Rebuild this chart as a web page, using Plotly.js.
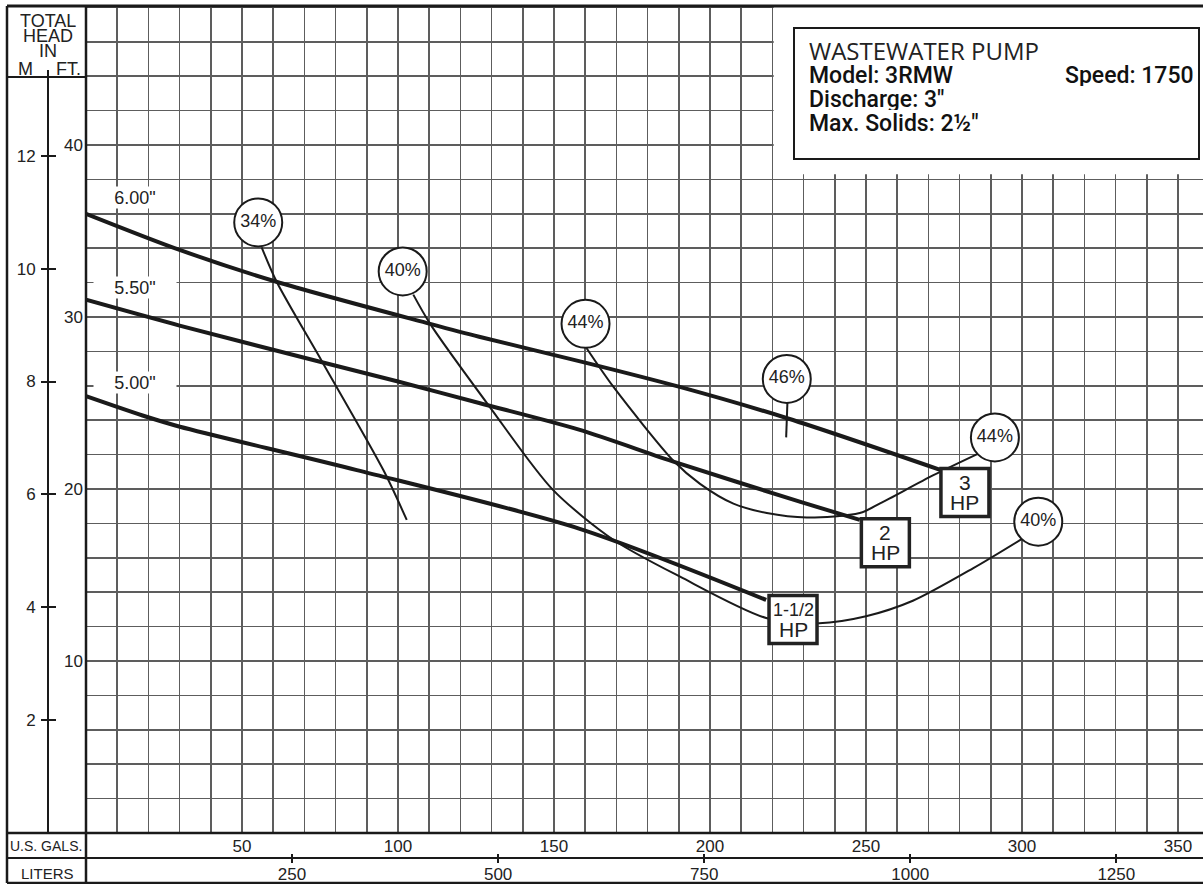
<!DOCTYPE html>
<html>
<head>
<meta charset="utf-8">
<script src="https://cdn.plot.ly/plotly-3.0.1.min.js"></script>
<style>html,body{margin:0;padding:0;background:#fff}</style>
</head>
<body>
<div id="chart" style="width:1203px;height:884px"></div>
<script>
// ---- axis tick values ----
const galTicks = [50, 100, 150, 200, 250, 300, 350];
const literTicks = [250, 500, 750, 1000, 1250];
const ftTicks = [10, 20, 30, 40];
const mTicks = [2, 4, 6, 8, 10, 12];

// ---- head-capacity curves (flow in US gal/min, head in ft) ----
const imp600_q = [0, 30, 61, 110.3, 126, 160, 190, 225, 274];
const imp600_h = [36.0, 33.9, 32.05, 29.6, 28.85, 27.35, 25.95, 24.1, 21.1];
const imp550_q = [0, 30, 75, 100, 126, 158, 189, 229, 248];
const imp550_h = [31.0, 29.5, 27.4, 26.25, 25.0, 23.45, 21.55, 19.25, 18.2];
const imp500_q = [0, 19.4, 30.1, 86.8, 158, 218];
const imp500_h = [25.4, 24.2, 23.62, 21.1, 17.7, 13.55];
const impLabels = ['6.00"', '5.50"', '5.00"'];
const impLabel_q = [15.7, 15.7, 15.7];
const impLabel_h = [36.97, 31.7, 26.2];

// ---- efficiency curves ----
const eff34_q = [56.3, 61.1, 76, 95.3, 102.8];
const eff34_h = [34.05, 32.05, 27.3, 21.1, 18.2];
const eff40_q = [104.9, 110.3, 129.5, 149.5, 169, 190.4, 218, 235, 250, 265, 284.4, 300];
const eff40_h = [31.3, 29.6, 24.75, 19.98, 17.05, 14.9, 12.5, 12.2, 12.6, 13.5, 15.4, 17.1];
const eff44_q = [160.4, 169, 188.5, 196.8, 207.5, 218.2, 231, 248, 254.5, 271.6, 286.5];
const eff44_h = [28.2, 25.95, 21.6, 20.3, 19.15, 18.6, 18.34, 18.6, 19.16, 20.8, 22.1];
const eff46_q = [224.8, 224.4];
const eff46_h = [25.0, 23.0];

// ---- efficiency labels ----
const circ_q = [55.2, 101.5, 160.1, 224.6, 291.3, 305.2];
const circ_h = [35.5, 32.65, 29.6, 26.4, 23.0, 18.1];
const circ_t = ['34%', '40%', '44%', '46%', '44%', '40%'];

// ---- motor HP labels ----
const hp_q = [281.7, 256.2, 226.6];
const hp_h = [19.8, 16.87, 12.41];
const hp_top = ['3', '2', '1-1/2'];

const GAL_TO_L = 3.78541;
const FT_PER_M = 3.28084;
const X_MAX = 358;
const Y_MAX = 48.08;

// pixel -> paper helpers (paper spans x 7..1203, y 6..883)
const W = 1196, H = 877;
const px = v => (v - 7) / W;
const py = v => (883 - v) / H;

const INK = '#1a1a1a';
const GRID = '#5d5d5d';
const FONT = 'Liberation Sans, Arial, Helvetica, sans-serif';

function curve(q, h, w) {
  return {x: q, y: h, mode: 'lines', xaxis: 'x', yaxis: 'y', hoverinfo: 'skip',
          line: {color: INK, width: w, shape: 'spline', smoothing: 0.8}};
}
function ghost(xa, ya) {
  return {x: [0], y: [0], xaxis: xa, yaxis: ya, mode: 'markers', hoverinfo: 'skip',
          marker: {opacity: 0, size: 1}};
}

const traces = [
  curve(imp600_q, imp600_h, 4),
  curve(imp550_q, imp550_h, 4),
  curve(imp500_q, imp500_h, 4),
  curve(eff34_q, eff34_h, 2),
  curve(eff40_q, eff40_h, 2),
  curve(eff44_q, eff44_h, 2),
  curve(eff46_q, eff46_h, 2),
  {x: circ_q, y: circ_h, mode: 'markers+text', text: circ_t, textposition: 'middle center',
   hoverinfo: 'skip', xaxis: 'x', yaxis: 'y',
   marker: {symbol: 'circle', size: 48, color: 'white', line: {color: INK, width: 2}},
   textfont: {family: FONT, size: 18, color: '#222'}},
  {x: hp_q, y: hp_h, mode: 'markers', hoverinfo: 'skip', xaxis: 'x', yaxis: 'y',
   marker: {symbol: 'square', size: 48, color: 'white', line: {color: '#222', width: 3.5}}},
  ghost('x2', 'y'), ghost('x3', 'y'), ghost('x', 'y2'), ghost('x', 'y3')
];

const annotations = [];
impLabels.forEach((t, i) => annotations.push({
  x: impLabel_q[i], y: impLabel_h[i], xref: 'x', yref: 'y', text: t, showarrow: false,
  xanchor: 'center', yanchor: 'middle',
  bgcolor: 'white', width: 80, height: 19, borderpad: 1,
  font: {family: FONT, size: 18, color: '#222'}
}));
hp_top.forEach((t, i) => {
  annotations.push({x: hp_q[i], y: hp_h[i], xref: 'x', yref: 'y', text: t, showarrow: false,
    xanchor: 'center', yanchor: 'middle', yshift: 10,
    font: {family: FONT, size: t.length > 2 ? 18 : 21, color: '#222'}});
  annotations.push({x: hp_q[i], y: hp_h[i], xref: 'x', yref: 'y', text: 'HP', showarrow: false,
    xanchor: 'center', yanchor: 'middle', yshift: -10, font: {family: FONT, size: 21, color: '#222'}});
});
// header text in left column
const hdr = [['TOTAL', 48, 21], ['HEAD', 48, 35.5], ['IN', 48, 51], ['M', 25, 69], ['FT.', 68, 69]];
hdr.forEach(([t, x, y]) => annotations.push({xref: 'paper', yref: 'paper', x: px(x), y: py(y),
  text: t, showarrow: false, xanchor: 'center', yanchor: 'middle', height: 14,
  font: {family: FONT, size: 18, color: '#222'}}));
annotations.push({xref: 'paper', yref: 'paper', x: px(46), y: py(846), text: 'U.S. GALS.',
  xanchor: 'center', yanchor: 'middle',
  showarrow: false, font: {family: FONT, size: 14, color: '#222'}});
annotations.push({xref: 'paper', yref: 'paper', x: px(47), y: py(873), text: 'LITERS',
  xanchor: 'center', yanchor: 'middle',
  showarrow: false, font: {family: FONT, size: 15, color: '#222'}});
// info box text
annotations.push({xref: 'paper', yref: 'paper', x: px(807), y: py(50), xanchor: 'left', yanchor: 'middle',
  text: 'WASTEWATER PUMP', height: 22,
  showarrow: false, font: {family: 'Open Sans, sans-serif', size: 24, color: '#222'}});
const boxFont = {family: 'Roboto, Liberation Sans, Arial, sans-serif', size: 23, color: '#111', weight: 500};
[['Model: 3RMW', 75], ['Discharge: 3"', 99], ['Max. Solids: 2\u00bd"', 123]].forEach(([t, y]) =>
  annotations.push({xref: 'paper', yref: 'paper', x: px(807), y: py(y), xanchor: 'left', yanchor: 'middle',
    text: t, height: 22, showarrow: false, font: boxFont}));
annotations.push({xref: 'paper', yref: 'paper', x: px(1196), y: py(75), xanchor: 'right', yanchor: 'middle',
  text: 'Speed: 1750', height: 22, showarrow: false, font: boxFont});

const ln = (x0, y0, x1, y1, w) => ({type: 'line', xref: 'paper', yref: 'paper', x0, y0, x1, y1,
  layer: 'above', line: {color: INK, width: w}});
const shapes = [
  {type: 'rect', xref: 'x', yref: 'y', x0: 220.4, x1: X_MAX + 5, y0: 38.3, y1: Y_MAX + 1,
   layer: 'above', fillcolor: 'white', line: {width: 0}},
  {type: 'rect', xref: 'paper', yref: 'paper', x0: px(794), x1: px(1199), y0: py(159), y1: py(28),
   layer: 'above', line: {color: INK, width: 2}},
  ln(0, 1, 1, 1, 3),
  ln(0, 0, 0, 1, 2.5),
  ln(0, 0, 1, 0, 2.5),
  ln(px(86), 0, px(86), 1, 2.5),
  ln(0, py(833), 1, py(833), 2.5),
  ln(0, py(858), 1, py(858), 2),
  ln(0, py(77), px(86), py(77), 2),
  ln(px(48), py(833), px(48), py(70), 2)
];

const tf = {family: FONT, size: 17, color: '#222'};
const layout = {
  width: 1203, height: 884,
  margin: {l: 7, r: 0, t: 6, b: 1},
  paper_bgcolor: 'white', plot_bgcolor: 'white',
  showlegend: false, hovermode: false,
  font: {family: FONT, color: '#222'},
  xaxis: {domain: [px(86), 1], range: [0, X_MAX], tickvals: galTicks, ticktext: galTicks.map(String),
    showgrid: true, gridcolor: GRID, gridwidth: 1.6, zeroline: false, showline: false, ticks: '',
    minor: {dtick: 10, tick0: 0, showgrid: true, gridcolor: GRID, gridwidth: 1.6, ticks: ''},
    tickfont: tf, ticklabelstandoff: 1, fixedrange: true},
  yaxis: {domain: [py(833), 1], range: [0, Y_MAX], tickvals: ftTicks, ticktext: ftTicks.map(String),
    showgrid: true, gridcolor: GRID, gridwidth: 1.6, zeroline: false, showline: false, ticks: '',
    minor: {dtick: 2, tick0: 0, showgrid: true, gridcolor: GRID, gridwidth: 1.6, ticks: ''},
    tickfont: tf, ticklabelstandoff: 2, fixedrange: true},
  xaxis2: {overlaying: 'x', anchor: 'free', position: py(858), side: 'bottom',
    range: [0, X_MAX * GAL_TO_L], tickvals: literTicks, ticktext: literTicks.map(String),
    ticks: 'outside', ticklen: 4, tickwidth: 2, tickcolor: INK, showgrid: false, zeroline: false,
    showline: false, tickfont: tf, ticklabelstandoff: -3, fixedrange: true},
  xaxis3: {overlaying: 'x', anchor: 'free', position: py(858), side: 'top',
    range: [0, X_MAX * GAL_TO_L], tickvals: literTicks, showticklabels: false,
    ticks: 'outside', ticklen: 4, tickwidth: 2, tickcolor: INK, showgrid: false, zeroline: false,
    showline: false, fixedrange: true},
  yaxis2: {overlaying: 'y', anchor: 'free', position: px(48), side: 'left',
    range: [0, Y_MAX / FT_PER_M], tickvals: mTicks, ticktext: mTicks.map(String),
    ticks: 'outside', ticklen: 7, tickwidth: 2, tickcolor: INK, showgrid: false, zeroline: false,
    showline: false, tickfont: tf, ticklabelstandoff: 2, fixedrange: true},
  yaxis3: {overlaying: 'y', anchor: 'free', position: px(48), side: 'right',
    range: [0, Y_MAX / FT_PER_M], tickvals: mTicks, showticklabels: false,
    ticks: 'outside', ticklen: 7, tickwidth: 2, tickcolor: INK, showgrid: false, zeroline: false,
    showline: false, fixedrange: true},
  shapes: shapes,
  annotations: annotations
};

Plotly.newPlot('chart', traces, layout, {displayModeBar: false, staticPlot: true});
</script>
</body>
</html>
